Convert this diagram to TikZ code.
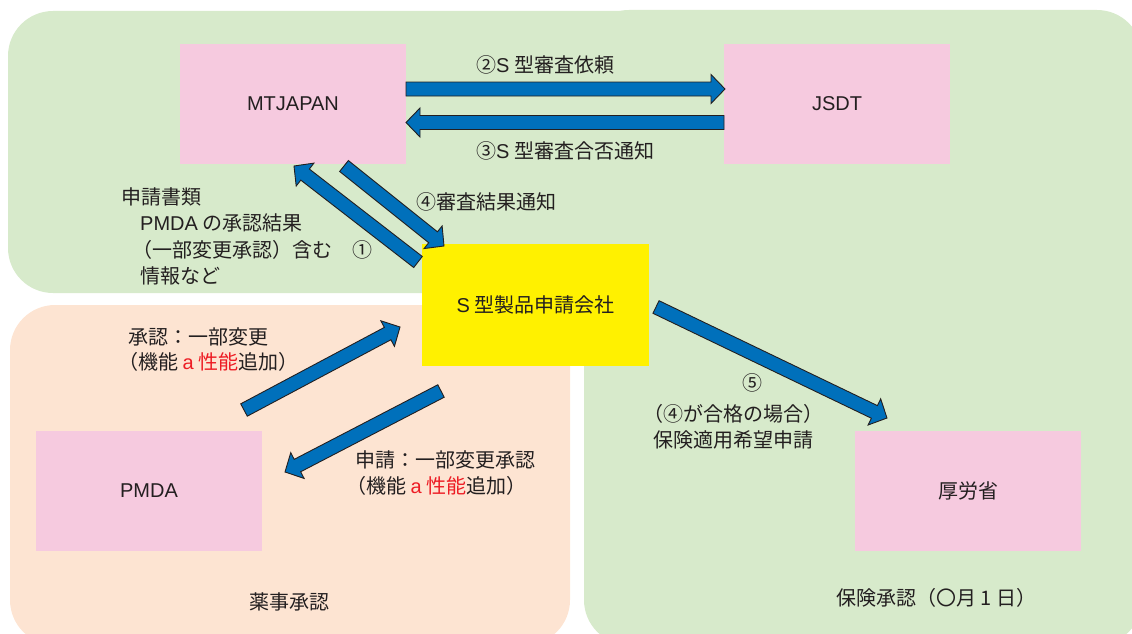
\documentclass[tikz,border=0pt]{standalone}
\usepackage{fontspec}
\setmainfont{Liberation Sans}
\newfontfamily\jp{Noto Sans CJK JP}
\usetikzlibrary{calc}
\definecolor{bggreen}{HTML}{D7EACB}
\definecolor{bgsalmon}{HTML}{FDE4D2}
\definecolor{boxpink}{HTML}{F6CADF}
\definecolor{boxyellow}{HTML}{FFF100}
\definecolor{arrblue}{HTML}{0070BB}
\definecolor{ink}{HTML}{231F20}
\definecolor{accent}{HTML}{ED1C24}
\newcommand\ltn[1]{{\rmfamily #1}}
% block arrow: #1 name, #2 tail coordinate, #3 tip coordinate
\newcommand\blockarrow[3]{%
  \coordinate (#1h) at ($(#3)!14pt!(#2)$);
  \draw[blk] ($(#2)!7pt!90:(#3)$) -- ($(#1h)!7pt!90:(#3)$) -- ($(#1h)!14.5pt!90:(#3)$) -- (#3)
    -- ($(#1h)!14.5pt!-90:(#3)$) -- ($(#1h)!7pt!-90:(#3)$) -- ($(#2)!7pt!-90:(#3)$) -- cycle;}
\begin{document}
\begin{tikzpicture}[x=1pt,y=-1pt,
  box/.style={fill=boxpink, inner sep=0pt, text=ink, font=\rmfamily\fontsize{20}{24}\selectfont,
    minimum width=226pt, minimum height=120pt},
  lbl/.style={inner sep=0pt, text height=15pt, text depth=0pt, anchor=west, text=ink,
    font=\jp\fontsize{20}{24}\selectfont},
  blk/.style={fill=arrblue, draw=ink, line width=0.9pt, line join=miter}]
\useasboundingbox (0,0) rectangle (1132,634);
\clip (0,0) rectangle (1132,634);
% regions
\fill[bggreen, rounded corners=45pt] (8,11) rectangle (1140,293);
\fill[bggreen, rounded corners=45pt] (584,10) rectangle (1142,645);
\fill[bgsalmon, rounded corners=45pt] (10,305) rectangle (570,645);
% boxes
\node[box] (mt) at (293,104) {MTJAPAN};
\node[box] (jsdt) at (837,104) {JSDT};
\node[box, fill=boxyellow, minimum width=227pt, minimum height=122pt] (co) at (535.5,305) {\jp\ltn{S} 型製品申請会社};
\node[box] (pmda) at (149,491) {PMDA};
\node[box, font=\jp\fontsize{20}{24}\selectfont] (mhlw) at (968,491) {厚労省};
% arrow end points
\coordinate (a2t) at (406,89);   \coordinate (a2h) at (725,89);
\coordinate (a3t) at (724,122.5); \coordinate (a3h) at (406,122.5);
\coordinate (a1t) at (418,262);  \coordinate (a1h) at (294,166);
\coordinate (a4t) at (344,166);  \coordinate (a4h) at (444,246);
\coordinate (apt) at (244,410);  \coordinate (aph) at (400,327);
\coordinate (ast) at (441,391);  \coordinate (ash) at (285,472);
\coordinate (a5t) at (656,307);  \coordinate (a5h) at (887,418);
% arrows
\blockarrow{x2}{a2t}{a2h}
\blockarrow{x3}{a3t}{a3h}
\blockarrow{x1}{a1t}{a1h}
\blockarrow{x4}{a4t}{a4h}
\blockarrow{xp}{apt}{aph}
\blockarrow{xs}{ast}{ash}
\blockarrow{x5}{a5t}{a5h}
% labels
\node[lbl] (l2) at (476,65) {②\ltn{S} 型審査依頼};
\node[lbl] (l3) at (476,151) {③\ltn{S} 型審査合否通知};
\node[lbl] (l4) at (416,202) {④審査結果通知};
\node[lbl] (l1a) at (121,197) {申請書類};
\node[lbl] (l1b) at (140,223) {\ltn{PMDA} の承認結果};
\node[lbl] (l1c) at (132,250) {（一部変更承認）含む　①};
\node[lbl] (l1d) at (140,276) {情報など};
\node[lbl] (lp1) at (128,337) {承認：一部変更};
\node[lbl] (lp2) at (118,362) {（機能 \textcolor{accent}{\ltn{a} 性能}追加）};
\node[lbl] (ls1) at (355,460) {申請：一部変更承認};
\node[lbl] (ls2) at (346,486) {（機能 \textcolor{accent}{\ltn{a} 性能}追加）};
\node[lbl, anchor=center] (lyaku) at (289,602) {薬事承認};
\node[lbl, anchor=center] (l5) at (752,383) {⑤};
\node[lbl] (l5b) at (643,414) {（④が合格の場合）};
\node[lbl] (l5c) at (653,440) {保険適用希望申請};
\node[lbl] (lhoken) at (836,598) {保険承認（〇月 1 日）};
\end{tikzpicture}
\end{document}
